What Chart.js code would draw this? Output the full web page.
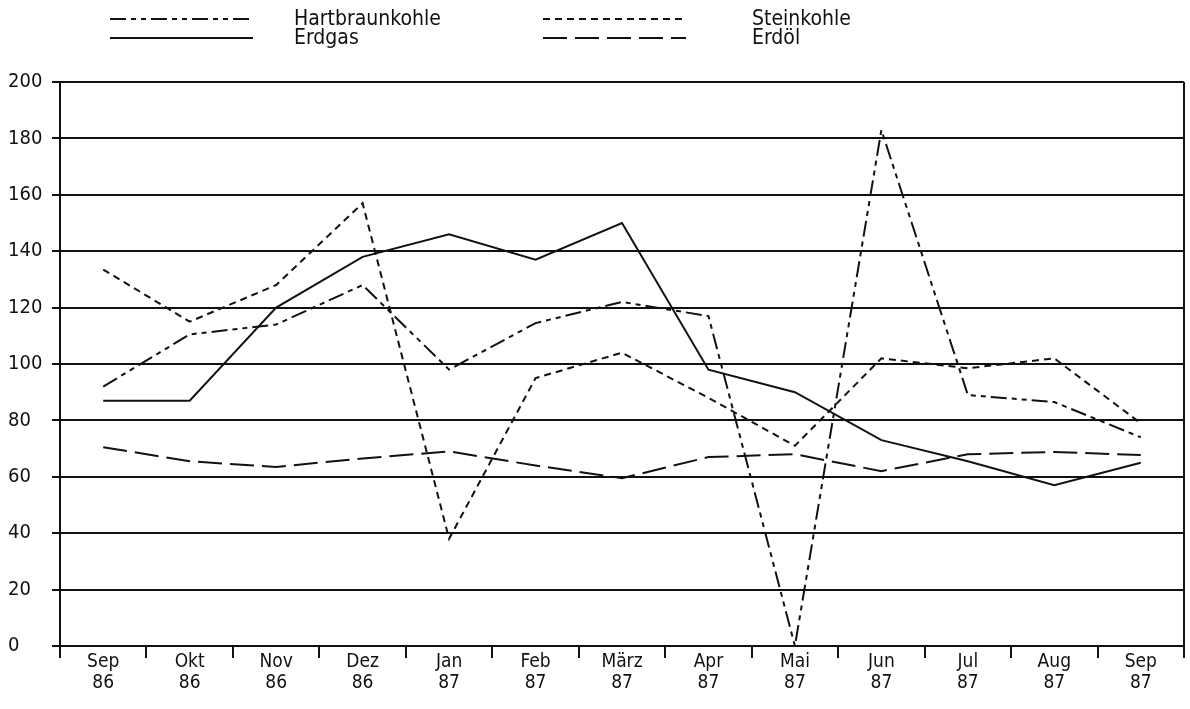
<!DOCTYPE html>
<html>
<head>
<meta charset="utf-8">
<script src="https://cdn.jsdelivr.net/npm/chart.js@4.4.1/dist/chart.umd.min.js"></script>
<style>
  html, body { margin: 0; padding: 0; background: #fff; }
</style>
</head>
<body>
<canvas id="chart" width="1190" height="709"></canvas>
<script>
// Monate (zweizeilige Achsenbeschriftung)
const months = [
  ['Sep', '86'], ['Okt', '86'], ['Nov', '86'], ['Dez', '86'],
  ['Jan', '87'], ['Feb', '87'], ['März', '87'], ['Apr', '87'],
  ['Mai', '87'], ['Jun', '87'], ['Jul', '87'], ['Aug', '87'], ['Sep', '87']
];

const hartbraunkohle = [92, 110.5, 114, 128, 98, 114.5, 122, 117, 0, 183, 89, 86.5, 74];
const steinkohle     = [133.5, 115, 128, 157, 38, 95, 104, 88, 71, 102, 98.5, 102, 79];
const erdgas         = [87, 87, 120, 138, 146, 137, 150, 98, 90, 73, 65.5, 57, 65];
const erdoel         = [70.5, 65.5, 63.5, 66.5, 69, 64, 59.5, 67, 68, 62, 68, 68.8, 67.7];

const yTicks = { min: 0, max: 200, step: 20 };

const FONT = "'DejaVu Sans Condensed', 'DejaVu Sans', sans-serif";
const INK = '#111';

// Legende in zwei Spalten, wie im Original
const legendPlugin = {
  id: 'twoColLegend',
  afterDraw(chart) {
    const ctx = chart.ctx;
    const slots = [
      { x: 110, y: 19, tx: 294 },
      { x: 543, y: 19, tx: 752 },
      { x: 110, y: 38, tx: 294 },
      { x: 543, y: 38, tx: 752 }
    ];
    ctx.save();
    chart.data.datasets.forEach((ds, i) => {
      const s = slots[i];
      ctx.strokeStyle = INK;
      ctx.lineWidth = 2;
      ctx.setLineDash(ds.borderDash || []);
      ctx.beginPath();
      ctx.moveTo(s.x, s.y);
      ctx.lineTo(s.x + 143, s.y);
      ctx.stroke();
      ctx.setLineDash([]);
      ctx.fillStyle = INK;
      ctx.font = '21px ' + FONT;
      ctx.textBaseline = 'middle';
      ctx.fillText(ds.label, s.tx, s.y + 1);
    });
    // rechter Rahmen
    const a = chart.chartArea;
    ctx.strokeStyle = INK;
    ctx.lineWidth = 2;
    ctx.beginPath();
    ctx.moveTo(a.right, a.top);
    ctx.lineTo(a.right, a.bottom);
    ctx.stroke();
    ctx.restore();
  }
};

new Chart(document.getElementById('chart').getContext('2d'), {
  type: 'line',
  data: {
    labels: months,
    datasets: [
      { label: 'Hartbraunkohle', data: hartbraunkohle, borderDash: [16, 5, 5, 5, 5, 5] },
      { label: 'Steinkohle', data: steinkohle, borderDash: [7, 5] },
      { label: 'Erdgas', data: erdgas, borderDash: [] },
      { label: 'Erdöl', data: erdoel, borderDash: [24, 8] }
    ].map(d => Object.assign(d, {
      borderColor: INK,
      borderWidth: 2,
      pointRadius: 0,
      tension: 0,
      fill: false
    }))
  },
  options: {
    responsive: false,
    animation: false,
    layout: { padding: { left: 8, top: 82, right: 6, bottom: 0 } },
    plugins: {
      legend: { display: false },
      tooltip: { enabled: false }
    },
    scales: {
      x: {
        offset: true,
        grid: {
          offset: true,
          drawOnChartArea: false,
          drawTicks: true,
          tickLength: 12,
          color: INK,
          lineWidth: 2
        },
        border: { display: true, color: INK, width: 2 },
        ticks: {
          autoSkip: false,
          maxRotation: 0,
          padding: -6,
          color: INK,
          font: { family: FONT, size: 19, lineHeight: 1.1 }
        },
        afterFit(scale) { scale.height = 63; }
      },
      y: {
        min: yTicks.min,
        max: yTicks.max,
        grid: {
          color: INK,
          lineWidth: 2,
          tickLength: 8
        },
        border: { display: true, color: INK, width: 2 },
        ticks: {
          stepSize: yTicks.step,
          crossAlign: 'far',
          color: INK,
          font: { family: FONT, size: 20 }
        },
        afterFit(scale) { scale.width = 52; }
      }
    }
  },
  plugins: [legendPlugin]
});
</script>
</body>
</html>
